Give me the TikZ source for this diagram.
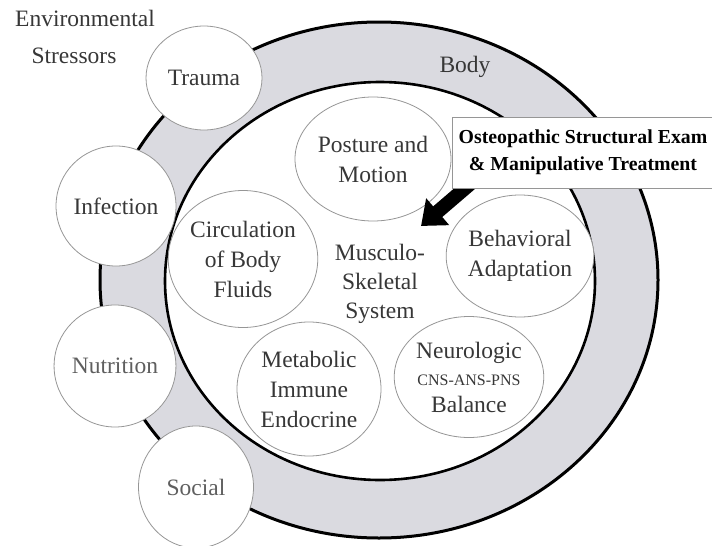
\documentclass[tikz,border=0pt]{standalone}
\usepackage{fontspec}
\setmainfont{Liberation Serif}
\usetikzlibrary{arrows.meta,shapes.geometric}
\definecolor{ringgray}{RGB}{218,218,224}
\definecolor{inkgray}{RGB}{55,55,55}
\definecolor{palegray}{RGB}{95,95,95}
\definecolor{edgegray}{RGB}{150,150,150}

\begin{document}
\begin{tikzpicture}[x=1pt, y=-1pt,
ring/.style={ellipse, draw=black, line width=3pt, inner sep=0pt},
factor/.style={ellipse, draw=edgegray, line width=0.8pt, fill=white, inner sep=0pt, align=center, text=inkgray, font=\fontsize{23.5}{30}\selectfont},
label/.style={anchor=base, inner sep=0pt, text=inkgray, font=\fontsize{23.5}{30}\selectfont},
bigarrow/.style={-{Triangle[length=22pt,width=34pt]}, line width=14pt, black},
examnote/.style={draw=edgegray, fill=white, line width=0.8pt, minimum width=262pt, minimum height=71pt, inner xsep=2pt, align=center, font=\fontsize{19.8}{27}\selectfont\bfseries}
]
\useasboundingbox (0,0) rectangle (712,546);

% body and inner system
\node[ring, fill=ringgray, minimum width=558pt, minimum height=516pt] (body) at (379,280) {};
\node[ring, fill=white, line width=2.6pt, minimum width=430pt, minimum height=398pt] (system) at (380,281) {};

% inner factors
\node[factor, minimum width=148pt, minimum height=124pt] (posture) at (373,159) {Posture and\\Motion};
\node[factor, minimum width=137pt, minimum height=122pt] (behavior) at (520,256) {Behavioral\\Adaptation};
\node[factor, minimum width=142pt, minimum height=121pt, font=\fontsize{23.5}{27}\selectfont] (neuro) at (469,377) {Neurologic\\{\fontsize{16}{18}\selectfont CNS-ANS-PNS}\\Balance};
\node[factor, minimum width=144pt, minimum height=134pt] (metabolic) at (309,389) {Metabolic\\Immune\\Endocrine};
\node[factor, minimum width=137pt, minimum height=137pt] (fluids) at (243,259) {Circulation\\of Body\\Fluids};
\node[align=center, text=inkgray, font=\fontsize{23.5}{29}\selectfont] (musculo) at (380,284) {Musculo-\\Skeletal\\System};

% environmental stressors
\node[factor, minimum width=116pt, minimum height=104pt] (trauma) at (204,78) {Trauma};
\node[factor, minimum width=118pt, minimum height=120pt] (infection) at (116,206) {Infection};
\node[factor, minimum width=116pt, minimum height=122pt, text=palegray] (nutrition) at (115,366) {Nutrition};
\node[factor, minimum width=115pt, minimum height=122pt, text=palegray] (social) at (196,487) {Social};

% labels
\node[label] (envtop) at (85,27) {Environmental};
\node[label] (envbot) at (74,63) {Stressors};
\node[label] (bodylabel) at (465,72) {Body};

% treatment
\coordinate (tail) at (470,184);
\coordinate (tip) at (421,226);
\draw[bigarrow] (tail) -- (tip);
\node[examnote] (exam) at (583,152.5) {Osteopathic Structural Exam\\\& Manipulative Treatment};
\end{tikzpicture}
\end{document}
